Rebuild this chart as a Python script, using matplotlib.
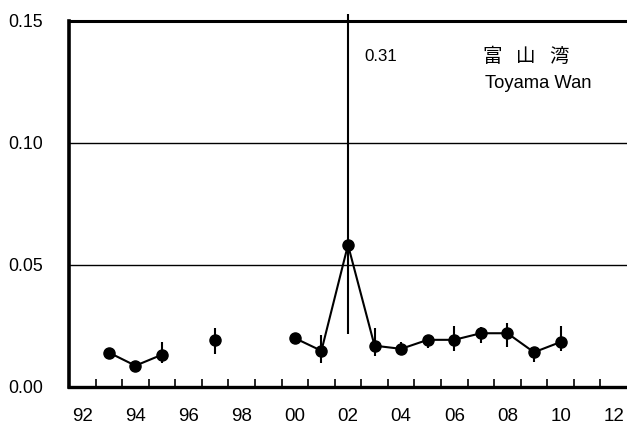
import numpy as np
import matplotlib
matplotlib.use("Agg")
import matplotlib.pyplot as plt
from matplotlib.ticker import MultipleLocator, FixedLocator
from matplotlib.transforms import Bbox, TransformedBbox

plt.rcParams['font.family'] = ['Liberation Sans', 'Noto Sans CJK JP', 'DejaVu Sans']

# yearly means with error bar ends (nan = not measured)
years = np.arange(1993, 2011)
mean = [0.0141, 0.0087, 0.0132, np.nan, 0.0193, np.nan, np.nan, 0.0200,
        0.0148, 0.0582, 0.0169, 0.0156, 0.0193, 0.0193, 0.0220, 0.0220,
        0.0142, 0.0184]
upper = [0.0141, 0.0087, 0.0183, np.nan, 0.0240, np.nan, np.nan, 0.0200,
         0.0213, 0.31, 0.0240, 0.0183, 0.0210, 0.0250, 0.0245, 0.0261,
         0.0165, 0.0250]
lower = [0.0141, 0.0087, 0.0100, np.nan, 0.0135, np.nan, np.nan, 0.0200,
         0.0100, 0.0216, 0.0127, 0.0135, 0.0161, 0.0149, 0.0179, 0.0165,
         0.0104, 0.0149]
peak_label = "0.31"
place_jp = "富 山 湾"
place_en = "Toyama Wan"
xlabels = ["92", "94", "96", "98", "00", "02", "04", "06", "08", "10", "12"]

mean = np.array(mean)
upper = np.array(upper)
lower = np.array(lower)

fig = plt.figure(figsize=(6.27, 4.28), dpi=100)
ax = fig.add_axes([0.110, 0.096, 0.890, 0.855])

ax.set_xlim(1991.5, 2012.5)
ax.set_ylim(0, 0.15)

# gridlines at 0.05 and 0.10
for yv in (0.05, 0.10):
    ax.axhline(yv, color='black', lw=1.0, zorder=1)

# error bars, allowed to poke a little above the frame
clip = TransformedBbox(Bbox([[0, 0], [1, 1.02]]), ax.transAxes)
ok = ~np.isnan(mean)
vl = ax.vlines(years[ok], lower[ok], upper[ok], color='black', lw=1.5, zorder=3)
vl.set_clip_box(clip)

ax.plot(years, mean, color='black', lw=1.5, marker='o', markersize=8,
        zorder=4)

ax.text(2002.6, 0.1355, peak_label, fontsize=12.2, va='center', ha='left')
# place name in kanji, characters spread out
for i, ch in enumerate(place_jp.split()):
    ax.annotate(ch, (2007.05, 0.1352), xytext=(i * 33.5, 0),
                textcoords='offset pixels', fontsize=14, va='center',
                ha='left')
ax.text(2007.17, 0.1245, place_en, fontsize=13.2, va='center', ha='left')

# year ticks on bin edges, labels on every other bin centre
ax.xaxis.set_major_locator(FixedLocator(np.arange(1992, 2013, 2)))
ax.set_xticklabels(xlabels)
ax.xaxis.set_minor_locator(FixedLocator(np.arange(1992.5, 2012.5, 1)))
ax.tick_params(axis='x', which='major', length=0, pad=15.5, labelsize=13.5)
ax.tick_params(axis='x', which='minor', direction='in', length=5.5, width=1.2)
ax.yaxis.set_major_locator(MultipleLocator(0.05))
ax.yaxis.set_major_formatter(plt.FormatStrFormatter('%.2f'))
ax.tick_params(axis='y', length=0, pad=18.5, labelsize=12.8)

ax.spines['right'].set_visible(False)
ax.spines['left'].set_linewidth(2.6)
ax.spines['bottom'].set_linewidth(2.4)
ax.spines['top'].set_linewidth(2.2)

fig.savefig("out.png", dpi=100)
